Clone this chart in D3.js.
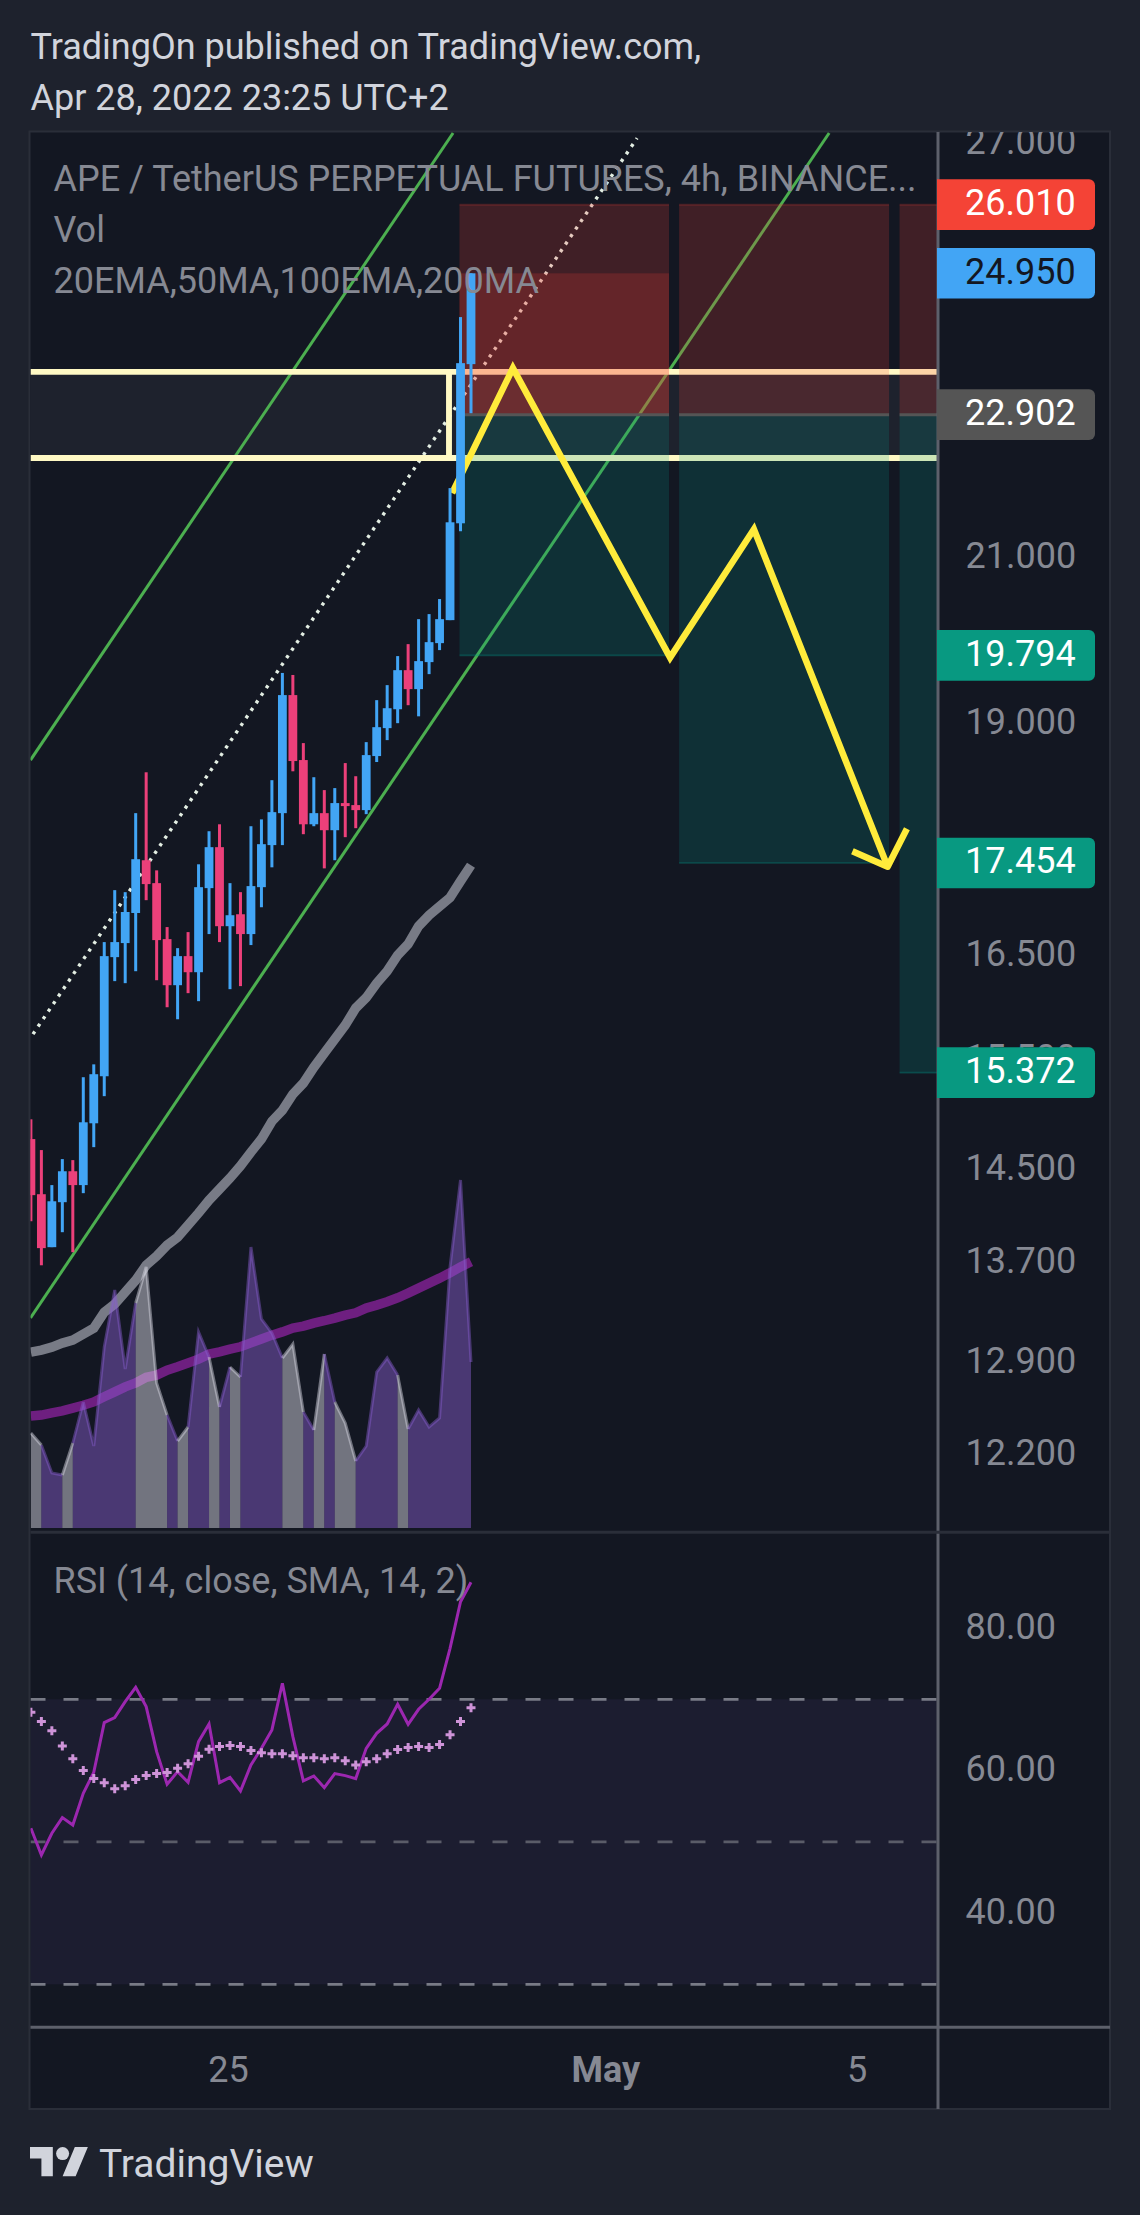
<!DOCTYPE html>
<html><head><meta charset="utf-8">
<style>html,body{margin:0;padding:0;background:#1e222d}svg{display:block}text{font-family:Roboto,sans-serif}</style>
<script src="https://cdnjs.cloudflare.com/ajax/libs/d3/7.8.5/d3.min.js"></script>
</head><body><svg id="c" width="1140" height="2215"></svg>
<script>
// ---- data ----
const opens=[14.765,14.280,13.829,14.211,14.480,14.359,14.907,15.338,16.486,16.627,16.933,17.483,17.242,16.667,16.208,16.496,16.336,17.190,17.622,16.798,16.920,16.718,17.200,17.644,17.989,19.323,18.577,17.868,17.989,17.804,18.099,18.077,18.022,18.622,18.940,19.158,19.617,19.393,19.713,19.941,20.221,21.443,23.614];
const highs=[14.943,14.667,14.359,14.587,14.578,15.329,15.449,16.637,17.169,17.148,17.989,18.440,17.376,16.789,16.576,16.738,17.440,17.793,17.868,17.242,17.148,17.847,17.921,18.352,19.584,19.560,18.769,18.385,18.242,18.264,18.543,18.396,18.780,19.264,19.440,19.785,19.929,20.233,20.295,20.481,21.905,24.297,24.950];
const lows=[14.048,13.678,13.829,13.955,13.787,14.289,14.693,15.154,16.248,16.228,16.346,17.065,16.257,15.993,15.877,16.130,16.052,16.718,16.637,16.169,16.199,16.607,16.992,17.408,17.644,18.451,17.761,17.847,17.397,17.483,17.729,17.826,17.978,18.555,18.803,18.997,19.205,19.076,19.570,19.857,20.221,21.340,22.922];
const closes=[14.272,13.821,14.219,14.480,14.359,14.916,15.357,16.496,16.637,16.943,17.494,17.232,16.657,16.208,16.496,16.336,17.200,17.622,16.798,16.910,16.718,17.211,17.654,18.000,19.323,18.566,17.868,17.989,17.804,18.099,18.066,18.022,18.633,18.951,19.170,19.617,19.393,19.725,19.953,20.233,21.456,23.628,24.950];
const greyMA=[12.977,12.993,13.016,13.048,13.072,13.119,13.167,13.295,13.360,13.457,13.555,13.678,13.754,13.846,13.913,14.014,14.118,14.228,14.324,14.421,14.527,14.649,14.765,14.925,15.024,15.173,15.274,15.421,15.554,15.687,15.820,15.985,16.086,16.228,16.346,16.506,16.617,16.798,16.910,17.002,17.091,17.263,17.430];
const purpleMA=[12.485,12.491,12.508,12.523,12.544,12.566,12.591,12.630,12.668,12.706,12.737,12.781,12.797,12.836,12.862,12.891,12.922,12.961,12.979,13.000,13.019,13.050,13.080,13.111,13.137,13.167,13.183,13.207,13.226,13.247,13.271,13.290,13.328,13.352,13.379,13.411,13.449,13.490,13.531,13.572,13.616,13.665,13.707];
const volumes=[95,83,55,53,85,126,82,181,238,159,225,261,145,113,87,101,196,171,121,161,151,281,209,195,170,184,116,98,174,126,105,67,82,156,170,153,99,118,101,110,261,348,166];
const rsiValues=[51.9,48.15,51.2,53.4,52.36,56.81,59.75,66.73,67.43,69.67,71.68,68.97,62.65,58.07,59.85,58.35,64.06,66.54,58.3,59.05,57.13,60.78,63.12,65.7,72.25,64.76,58.54,59.24,57.6,59.57,59.29,58.87,63.12,65.23,66.54,69.3,66.49,68.6,70,71.54,77.16,83.7,86.42];
const rsiSma=[68.18,66.87,65.6,63.45,61.67,59.99,58.87,58.3,57.46,57.88,58.73,59.29,59.57,59.71,60.32,60.97,62.0,62.98,63.36,63.5,63.36,62.8,62.51,62.37,62.37,62.09,61.81,61.81,61.67,61.81,61.39,60.78,61.25,61.67,62.37,62.94,63.22,63.36,63.22,63.64,65.04,66.87,68.83];
const priceTicks=[27,21,19,16.5,15.5,14.5,13.7,12.9,12.2];
const rsiTicks=[80,60,40];
const rsiLevels=[70,50,30];
const timeTicks=[Date.UTC(2022,3,25),Date.UTC(2022,4,1),Date.UTC(2022,4,5)];
const timeTickNames=["25","May","5"];
const priceTags=[26.010,24.950,22.902,19.794,17.454,15.372];
const tagFills=["#f44336","#42a5f5","#555555","#089981","#089981","#089981"];
const tagInks=["#ffffff","#131722","#ffffff","#ffffff","#ffffff","#ffffff"];
const channelUpper=[[-0.04,18.577],[40.29,27.164]];
const channelLower=[[-0.04,13.249],[76.18,27.164]];
const channelMid=[[0.2,15.735],[57.85,27.08]];
const boxLevels=[23.503,22.308];
const boxEndBar=39.9;
const zoneStarts=[40.9,61.86,82.9];
const zoneEnds=[60.9,81.9,100];
const zoneStop=26.010, zoneEntry=22.902, zoneFilled=24.950;
const zoneTargets=[19.794,17.454,15.372];
const forecastPath=[[40.2,21.839],[46.0,23.556],[61.0,19.767],[69.0,21.366],[81.76,17.415]];
const arrowHead=[[78.4,17.579],[81.76,17.415],[83.6,17.819]];
const titleLines=["TradingOn published on TradingView.com,","Apr 28, 2022 23:25 UTC+2"];
const legendLines=["APE / TetherUS PERPETUAL FUTURES, 4h, BINANCE...","Vol","20EMA,50MA,100EMA,200MA"];

// ---- scales ----
const BLUE="#42a5f5",PINK="#ec407a",BG="#131722",AX="#868993";
const L=30.5,AXX=938,R=1110,T=132,B=2109,DIV=1532.3,TIMEY=2027.3;
const t0=Date.UTC(2022,3,21,20), H4=4*3600*1000;
const barTime=i=>new Date(t0+i*H4);
const x=d3.scaleUtc().domain([barTime(0),barTime(42)]).range([30.9,471]);
const xb=i=>x(barTime(i));
const y=d3.scaleLog().domain([27,12.2]).range([143,1454]);
const yv=d3.scaleLinear().domain([0,348]).range([1528,1180]);
const yr=d3.scaleLinear().domain([70,30]).range([1699.3,1984.3]);
const bars=d3.range(opens.length);
const up=i=>closes[i]>=opens[i];

const svg=d3.select("#c");
const defs=svg.append("defs");
defs.append("clipPath").attr("id","cp").append("rect").attr("x",L).attr("y",T).attr("width",AXX-L).attr("height",DIV-T);
defs.append("clipPath").attr("id","cr").append("rect").attr("x",L).attr("y",DIV).attr("width",AXX-L).attr("height",TIMEY-DIV);
svg.append("rect").attr("width",1140).attr("height",2215).attr("fill","#1e222d");
svg.append("rect").attr("x",29.5).attr("y",131.5).attr("width",R-29.5).attr("height",B-131.5).attr("fill",BG).attr("stroke","#2a2e39").attr("stroke-width",2);

// ---- price pane ----
const p=svg.append("g").attr("clip-path","url(#cp)");
p.append("rect").attr("x",L).attr("y",y(boxLevels[0])).attr("width",AXX-L).attr("height",y(boxLevels[1])-y(boxLevels[0])).attr("fill","#1e222d");
const line=d3.line().x(d=>xb(d[0])).y(d=>y(d[1]));
p.selectAll(".ch").data([channelUpper,channelLower]).join("path").attr("d",line).attr("fill","none").attr("stroke","#4caf50").attr("stroke-width",3);
p.append("path").attr("d",line(channelMid)).attr("fill","none").attr("stroke","#e3eee3").attr("stroke-width",3.4).attr("stroke-dasharray","3.2 5.87");
p.selectAll(".bl").data(boxLevels).join("line").attr("x1",L).attr("x2",AXX).attr("y1",d=>y(d)).attr("y2",d=>y(d)).attr("stroke","#fff9c4").attr("stroke-width",5.9);
p.append("line").attr("x1",xb(boxEndBar)).attr("x2",xb(boxEndBar)).attr("y1",y(boxLevels[0])).attr("y2",y(boxLevels[1])).attr("stroke","#fff9c4").attr("stroke-width",5.9);

// position zones
zoneStarts.forEach((s,k)=>{
  const x0=xb(s),w=xb(zoneEnds[k])-x0;
  p.append("rect").attr("x",x0).attr("y",y(zoneStop)).attr("width",w).attr("height",y(zoneEntry)-y(zoneStop)).attr("fill","#f44336").attr("fill-opacity",.2);
  p.append("rect").attr("x",x0).attr("y",y(zoneEntry)).attr("width",w).attr("height",y(zoneTargets[k])-y(zoneEntry)).attr("fill","#009688").attr("fill-opacity",.2);
  if(k===0)p.append("rect").attr("x",x0).attr("y",y(zoneFilled)).attr("width",w).attr("height",y(zoneEntry)-y(zoneFilled)).attr("fill","#f44336").attr("fill-opacity",.2);
  p.append("line").attr("x1",x0).attr("x2",x0+w).attr("y1",y(zoneStop)).attr("y2",y(zoneStop)).attr("stroke","#f44336").attr("stroke-opacity",.2).attr("stroke-width",2);
  p.append("line").attr("x1",x0).attr("x2",x0+w).attr("y1",y(zoneEntry)).attr("y2",y(zoneEntry)).attr("stroke","#555555").attr("stroke-width",3);
  p.append("line").attr("x1",x0).attr("x2",x0+w).attr("y1",y(zoneTargets[k])).attr("y2",y(zoneTargets[k])).attr("stroke","#009688").attr("stroke-opacity",.35).attr("stroke-width",1.6);
});

// moving averages
const maLine=d3.line().x((d,i)=>xb(i)).y(d=>y(d)).curve(d3.curveLinear);
p.append("path").attr("d",maLine(greyMA)).attr("fill","none").attr("stroke","#787b86").attr("stroke-width",9.5);
p.append("path").attr("d",maLine(purpleMA)).attr("fill","none").attr("stroke","#6e1f80").attr("stroke-width",9.5);

// volume as runs coloured by the candle direction
const runs=[];bars.slice(1).forEach(i=>{const g=up(i);const last=runs[runs.length-1];
  if(last&&last.g===g)last.idx.push(i);else runs.push({g,idx:[i-1,i]});});
const vArea=d3.area().x(i=>xb(i)).y0(yv(0)).y1(i=>yv(volumes[i]));
const vLine=d3.line().x(i=>xb(i)).y(i=>yv(volumes[i]));
p.selectAll(".va").data(runs).join("path").attr("d",d=>vArea(d.idx)).attr("fill",d=>d.g?"#885ece":"#dddde8").attr("fill-opacity",.47);
p.selectAll(".vl").data(runs).join("path").attr("d",d=>vLine(d.idx)).attr("fill","none").attr("stroke",d=>d.g?"#885ece":"#dddde8").attr("stroke-opacity",.45).attr("stroke-width",3);

// forecast path
p.append("path").attr("d",line(forecastPath)).attr("fill","none").attr("stroke","#ffeb3b").attr("stroke-width",6.5).attr("stroke-linejoin","miter").attr("stroke-miterlimit",10);
p.append("path").attr("d",line(arrowHead)).attr("fill","none").attr("stroke","#ffeb3b").attr("stroke-width",6.5).attr("stroke-linejoin","round");

// candles
const cg=p.append("g");
cg.selectAll(".w").data(bars).join("rect").attr("x",i=>xb(i)-1.5).attr("width",3).attr("y",i=>y(highs[i])).attr("height",i=>Math.max(.5,y(lows[i])-y(highs[i]))).attr("fill",i=>up(i)?BLUE:PINK);
cg.selectAll(".b").data(bars).join("rect").attr("x",i=>xb(i)-4.4).attr("width",8.8).attr("y",i=>y(Math.max(opens[i],closes[i]))).attr("height",i=>Math.max(2,Math.abs(y(opens[i])-y(closes[i])))).attr("fill",i=>up(i)?BLUE:PINK);

// ---- RSI pane ----
const r=svg.append("g").attr("clip-path","url(#cr)");
r.append("rect").attr("x",L).attr("y",yr(70)).attr("width",AXX-L).attr("height",yr(30)-yr(70)).attr("fill","#7e57c2").attr("fill-opacity",.085);
r.selectAll(".h").data(rsiLevels).join("line").attr("x1",L).attr("x2",AXX).attr("y1",d=>yr(d)).attr("y2",d=>yr(d))
 .attr("stroke",d=>d===50?"#5a5c68":"#787b86").attr("stroke-width",2.8).attr("stroke-dasharray","15 18");
r.append("path").attr("d",d3.line().x((d,i)=>xb(i)).y(d=>yr(d))(rsiValues)).attr("fill","none").attr("stroke","#9c27b0").attr("stroke-width",3);
r.selectAll(".s").data(rsiSma).join("path").attr("d",d3.symbol(d3.symbolCross,45)).attr("transform",(d,i)=>`translate(${xb(i)},${yr(d)})`).attr("fill","#ce93d8");

// ---- frame lines ----
svg.append("line").attr("x1",AXX).attr("x2",AXX).attr("y1",T).attr("y2",B).attr("stroke","#5d606b").attr("stroke-width",3);
svg.append("line").attr("x1",L).attr("x2",R).attr("y1",DIV).attr("y2",DIV).attr("stroke","#2a2e39").attr("stroke-width",3);
svg.append("line").attr("x1",L).attr("x2",R).attr("y1",TIMEY).attr("y2",TIMEY).attr("stroke","#5d606b").attr("stroke-width",3);

// ---- axes ----
function styleAxis(g){g.select(".domain").remove();g.selectAll("line").remove();g.selectAll("text").attr("fill",AX).style("font-size","36px").style("font-family","Roboto");}
defs.append("clipPath").attr("id","ca").append("rect").attr("x",AXX).attr("y",T).attr("width",R-AXX).attr("height",DIV-T);
svg.append("g").attr("clip-path","url(#ca)").append("g").attr("transform",`translate(${AXX},-0.6)`)
 .call(d3.axisRight(y).tickValues(priceTicks).tickFormat(d3.format(".3f")).tickSize(0).tickPadding(27.5)).call(styleAxis).selectAll("text").attr("dy","0.3em");
svg.append("g").attr("transform",`translate(${AXX},-0.6)`)
 .call(d3.axisRight(yr).tickValues(rsiTicks).tickFormat(d3.format(".2f")).tickSize(0).tickPadding(27.5)).call(styleAxis).selectAll("text").attr("dy","0.3em");
svg.append("g").attr("transform",`translate(-2,${TIMEY})`)
 .call(d3.axisBottom(x).tickValues(timeTicks.map(d=>new Date(d))).tickFormat((d,i)=>timeTickNames[i]).tickSize(0)).call(styleAxis)
 .selectAll("text").attr("y",54.3).attr("dy",0).style("font-weight",(d,i)=>timeTickNames[i]==="May"?"700":"400");

// price tags
const tag=svg.append("g").selectAll("g").data(priceTags).join("g").attr("transform",d=>`translate(${AXX-1},${y(d)})`);
tag.append("path").attr("d","M0,-25.3H152a6,6 0 0 1 6,6V19.3a6,6 0 0 1 -6,6H0Z").attr("fill",(d,i)=>tagFills[i]);
tag.append("text").text(d3.format(".3f")).attr("x",28).attr("y",-0.6).attr("dy","0.3em").attr("fill",(d,i)=>tagInks[i]).style("font-size","36px");

// ---- texts ----
svg.selectAll(".ti").data(titleLines).join("text").text(d=>d).attr("x",30.5).attr("y",(d,i)=>[58.7,110][i]).attr("fill","#d1d4dc").style("font-size","36px");
svg.selectAll(".le").data(legendLines).join("text").text(d=>d).attr("x",53.5).attr("y",(d,i)=>[191,242,293][i]).attr("fill",AX).style("font-size","36px");
svg.append("text").text("RSI (14, close, SMA, 14, 2)").attr("x",53.5).attr("y",1520+218/3).attr("fill",AX).style("font-size","36px");

// logo
const lg=svg.append("g").attr("transform","translate(30,2140.5) scale(1.63)").attr("fill","#d1d4dc");
lg.append("path").attr("d","M14 22H7V11H0V4h14v18zM28 22h-8l7.5-18h8L28 22z");
lg.append("circle").attr("cx",20).attr("cy",8).attr("r",4);
svg.append("text").text("TradingView").attr("x",99).attr("y",2177).attr("fill","#d1d4dc").style("font-size","39px");
</script></body></html>
